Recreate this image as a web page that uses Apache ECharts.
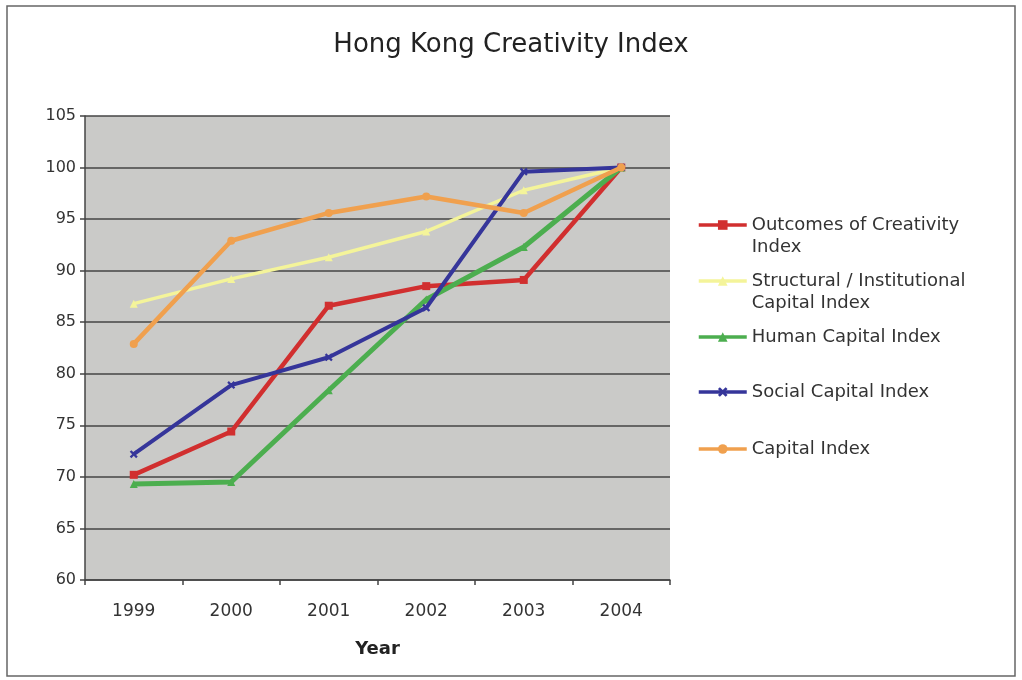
<!DOCTYPE html>
<html>
<head>
<meta charset="utf-8">
<script src="https://cdn.jsdelivr.net/npm/echarts@6/dist/echarts.min.js"></script>
<style>
html,body{margin:0;padding:0;background:#fff;}
#chart{width:1022px;height:680px;}
</style>
</head>
<body>
<div id="chart"></div>
<script>
const categories = ['1999', '2000', '2001', '2002', '2003', '2004'];
const outcomes   = [70.2, 74.4, 86.6, 88.5, 89.1, 100];
const structural = [86.8, 89.2, 91.3, 93.8, 97.8, 100];
const human      = [69.3, 69.5, 78.4, 87.2, 92.3, 100];
const social     = [72.2, 78.9, 81.6, 86.4, 99.6, 100];
const capital    = [82.9, 92.9, 95.6, 97.2, 95.6, 100];
const seriesNames = [
  'Outcomes of Creativity\nIndex',
  'Structural / Institutional\nCapital Index',
  'Human Capital Index',
  'Social Capital Index',
  'Capital Index'
];

const FONT = 'DejaVu Sans';
const xSym = 'path://M2,0L5,3L8,0L10,2L7,5L10,8L8,10L5,7L2,10L0,8L3,5L0,2Z';

const colors = ['#d12f2f', '#f4f49a', '#4cae4f', '#35359a', '#f0a04e'];
const widths = [4.5, 3.5, 5, 4, 4.5];
const symbols = ['rect', 'triangle', 'triangle', xSym, 'circle'];
const values = [outcomes, structural, human, social, capital];

const legendTops = [192, 248, 326, 381, 438];

const chart = echarts.init(document.getElementById('chart'), null, {renderer: 'canvas'});

const legends = seriesNames.map((n, i) => ({
  data: [n],
  left: 697,
  top: legendTops[i],
  padding: 0,
  orient: 'vertical',
  itemWidth: 48,
  itemHeight: 12,
  itemGap: 0,
  selectedMode: false,
  lineStyle: {width: 3.5},
  formatter: function (name) {
    return name.indexOf('\n') >= 0 ? '\n' + name : name;
  },
  textStyle: {fontFamily: FONT, fontSize: 18, color: '#333', lineHeight: 22}
}));

const option = {
  backgroundColor: '#ffffff',
  animation: false,
  title: {
    text: 'Hong Kong Creativity Index',
    left: 'center',
    top: 27,
    textStyle: {fontFamily: FONT, fontSize: 26, fontWeight: 'normal', color: '#222'}
  },
  legend: legends,
  grid: {
    left: 85, right: 352, top: 116, bottom: 100,
    show: true, backgroundColor: '#cacac8', borderWidth: 0
  },
  xAxis: {
    type: 'category',
    data: categories,
    boundaryGap: true,
    name: 'Year',
    nameLocation: 'middle',
    nameGap: 60,
    nameTextStyle: {fontFamily: FONT, fontSize: 18, fontWeight: 'bold', color: '#222'},
    axisLine: {lineStyle: {color: '#444', width: 1.5}},
    axisTick: {show: true, length: 5, lineStyle: {color: '#444', width: 1.5}},
    axisLabel: {fontFamily: FONT, fontSize: 17, color: '#333', margin: 23},
    splitLine: {show: false}
  },
  yAxis: {
    type: 'value',
    min: 60, max: 105, interval: 5,
    axisLine: {show: true, lineStyle: {color: '#444', width: 1.5}},
    axisTick: {show: true, length: 5, lineStyle: {color: '#444', width: 1.5}},
    axisLabel: {fontFamily: FONT, fontSize: 16, color: '#333', margin: 9},
    splitLine: {show: true, lineStyle: {color: '#444', width: 1.6}}
  },
  graphic: [{
    type: 'rect',
    shape: {x: 7, y: 6, width: 1008, height: 670},
    style: {fill: 'none', stroke: '#666', lineWidth: 1.5},
    silent: true
  }],
  series: seriesNames.map((n, i) => ({
    name: n,
    type: 'line',
    data: values[i],
    symbol: symbols[i],
    symbolSize: 8,
    showAllSymbol: true,
    lineStyle: {color: colors[i], width: widths[i]},
    itemStyle: {color: colors[i]},
    z: 2 + i
  }))
};

chart.setOption(option);
</script>
</body>
</html>
